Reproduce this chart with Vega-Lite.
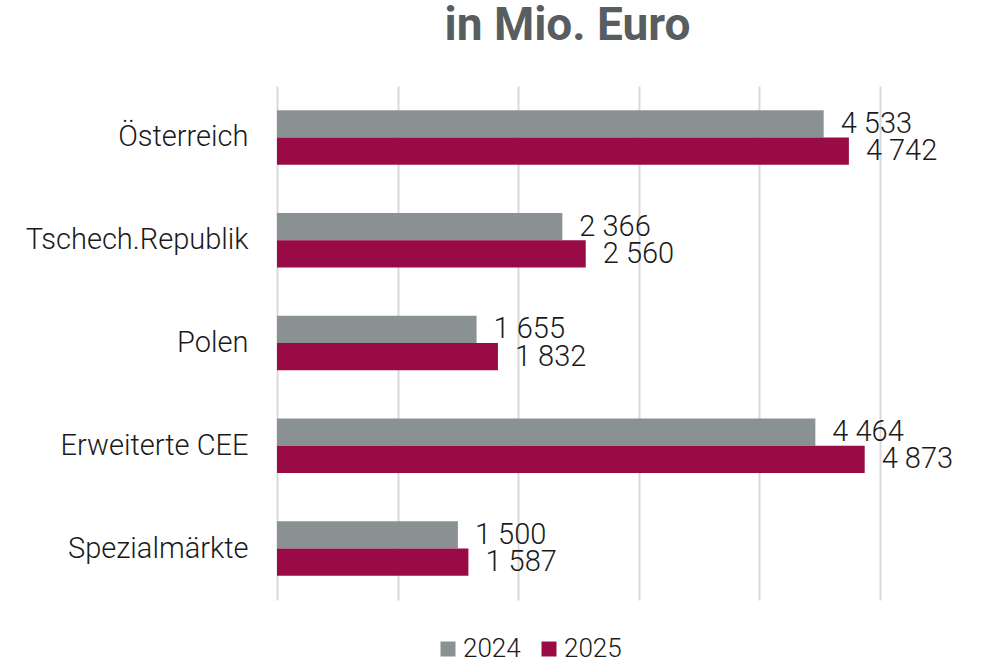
{
  "$schema": "https://vega.github.io/schema/vega-lite/v6.json",
  "width": 603,
  "height": 514,
  "autosize": "none",
  "padding": {"left": 277, "top": 86, "right": 120, "bottom": 60},
  "config": {
    "view": {"stroke": null},
    "font": "Roboto",
    "locale": {
      "number": {"decimal": ",", "thousands": " ", "grouping": [3], "currency": ["", " €"]}
    }
  },
  "title": {
    "text": "in Mio. Euro",
    "font": "Roboto",
    "fontWeight": "bold",
    "fontSize": 46,
    "color": "#575d60",
    "anchor": "middle",
    "dx": -11,
    "dy": 42,
    "baseline": "alphabetic",
    "offset": 42
  },
  "data": {
    "values": [
      {"region": "Österreich", "year": "2024", "value": 4533},
      {"region": "Österreich", "year": "2025", "value": 4742},
      {"region": "Tschech.Republik", "year": "2024", "value": 2366},
      {"region": "Tschech.Republik", "year": "2025", "value": 2560},
      {"region": "Polen", "year": "2024", "value": 1655},
      {"region": "Polen", "year": "2025", "value": 1832},
      {"region": "Erweiterte CEE", "year": "2024", "value": 4464},
      {"region": "Erweiterte CEE", "year": "2025", "value": 4873},
      {"region": "Spezialmärkte", "year": "2024", "value": 1500},
      {"region": "Spezialmärkte", "year": "2025", "value": 1587}
    ]
  },
  "encoding": {
    "y": {
      "field": "region",
      "type": "nominal",
      "sort": ["Österreich", "Tschech.Republik", "Polen", "Erweiterte CEE", "Spezialmärkte"],
      "scale": {"paddingInner": 0.47, "paddingOuter": 0.235},
      "axis": {
        "title": null,
        "domain": false,
        "ticks": false,
        "labelFont": "Roboto",
        "labelFontSize": 29,
        "labelFontWeight": 300,
        "labelColor": "#1a1a1a",
        "labelPadding": 29,
        "labelLimit": 400
      }
    },
    "x": {
      "field": "value",
      "type": "quantitative",
      "scale": {"domain": [0, 5000], "nice": false},
      "axis": {
        "title": null,
        "labels": false,
        "ticks": false,
        "domain": false,
        "values": [0, 1000, 2000, 3000, 4000, 5000],
        "grid": true,
        "gridColor": "#d9d9d9",
        "gridWidth": 2
      }
    },
    "yOffset": {
      "field": "year",
      "type": "nominal",
      "scale": {"paddingInner": 0, "paddingOuter": 0}
    },
    "color": {
      "field": "year",
      "type": "nominal",
      "scale": {"domain": ["2024", "2025"], "range": ["#8a9192", "#980b47"]},
      "legend": {
        "title": null,
        "orient": "none",
        "legendX": 158,
        "legendY": 550,
        "direction": "horizontal",
        "symbolType": "square",
        "symbolSize": 225,
        "symbolStrokeWidth": 0,
        "labelFont": "Roboto",
        "labelFontSize": 26,
        "labelFontWeight": 300,
        "labelColor": "#1a1a1a",
        "labelOffset": 2,
        "columnPadding": 15
      }
    }
  },
  "layer": [
    {"mark": {"type": "bar"}},
    {
      "mark": {
        "type": "text",
        "align": "left",
        "baseline": "middle",
        "dx": 17,
        "font": "Roboto",
        "fontSize": 29,
        "fontWeight": 300,
        "color": "#1a1a1a"
      },
      "encoding": {
        "text": {"field": "value", "type": "quantitative", "format": ","},
        "color": {"value": "#1a1a1a"}
      }
    }
  ]
}
